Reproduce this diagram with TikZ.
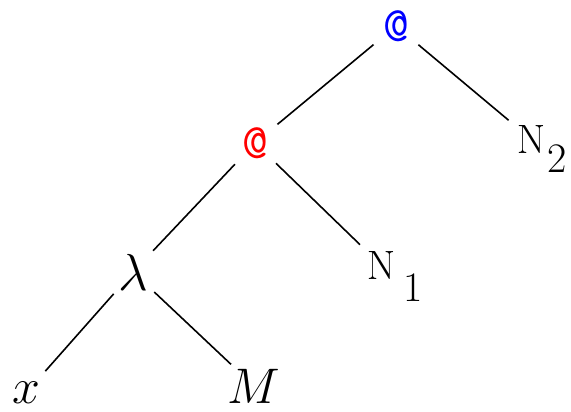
\RequirePackage{fix-cm}
\documentclass[tikz,border=0pt]{standalone}
\newcommand{\sz}[1]{\fontsize{#1}{#1}\selectfont}
\newcommand{\Nsub}[3]{$\mathrm{N}$\rlap{\smash{\kern #2\raisebox{#3}{\sz{42}#1}}}}
\tikzset{
  tnode/.style={circle, inner sep=0pt, minimum size=58pt, font=\sz{52}},
  atnode/.style={tnode, font=\sz{50}\ttfamily},
  nnode/.style={tnode, font=\sz{41}},
  edge/.style={line width=1.6pt, black},
}
\begin{document}
\begin{tikzpicture}[x=1pt,y=1pt]
\useasboundingbox (0,0) rectangle (571,412);
\node[atnode, text=blue] (app2) at (396,386) {@};
\node[atnode, text=red] (app1) at (255,269) {@};
\node[nnode] (n2) at (531,273) {\Nsub{2}{2pt}{-19pt}};
\node[tnode] (lam) at (133,140) {$\lambda$};
\node[nnode] (n1) at (381,147) {\Nsub{1}{8pt}{-22pt}};
\node[tnode, font=\sz{50}] (x) at (26,19) {$x$};
\node[tnode, font=\sz{50}] (m) at (254,26) {$M$};
\draw[edge] (app2) -- (app1);
\draw[edge] (app2) -- (n2);
\draw[edge] (app1) -- (lam);
\draw[edge] (app1) -- (n1);
\draw[edge] (lam) -- (x);
\draw[edge] (lam) -- (m);
\end{tikzpicture}
\end{document}
